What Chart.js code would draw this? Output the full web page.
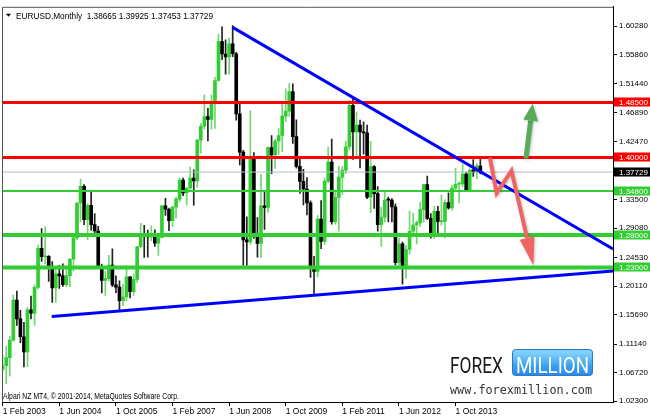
<!DOCTYPE html>
<html>
<head>
  <meta charset="UTF-8" />
  <title>EURUSD Monthly</title>
  <script src="https://cdn.jsdelivr.net/npm/chart.js"></script>
  <style>
    body {
      margin: 0;
      background: #fff;
    }

    #wrap {
      width: 650px;
      height: 420px;
    }
  </style>
</head>
<body>

  <div id="wrap"><canvas id="chart" width="650" height="420"></canvas></div>

  <script>
    // monthly candles, index 0 = Feb 2003, last = May 2014 (still open)
    const opens = [
      1.0728, 1.0780, 1.0906, 1.1175, 1.1794, 1.1503, 1.1228, 1.0995, 1.1642, 1.1593, 1.1990,
      1.2595, 1.2464, 1.2470, 1.2315, 1.1983, 1.2200, 1.2169, 1.2033, 1.2172, 1.2426, 1.2757, 1.3295,
      1.3554, 1.3037, 1.3259, 1.2960, 1.2862, 1.2303, 1.2099, 1.2127, 1.2337, 1.2030, 1.1995, 1.1787,
      1.1845, 1.2155, 1.1926, 1.2115, 1.2623, 1.2813, 1.2786, 1.2770, 1.2816, 1.2676, 1.2762, 1.3250,
      1.3199, 1.3021, 1.3232, 1.3355, 1.3651, 1.3452, 1.3527, 1.3679, 1.3638, 1.4266, 1.4481, 1.4631,
      1.4587, 1.4863, 1.5189, 1.5790, 1.5598, 1.5552, 1.5754, 1.5602, 1.4672, 1.4081, 1.2724, 1.2693,
      1.3972, 1.2802, 1.2669, 1.3251, 1.3226, 1.4151, 1.4040, 1.4254, 1.4339, 1.4637, 1.4716, 1.5016,
      1.4321, 1.3862, 1.3629, 1.3512, 1.3296, 1.2302, 1.2236, 1.3045, 1.2700, 1.3633, 1.3927, 1.3006,
      1.3381, 1.3696, 1.3803, 1.4165, 1.4805, 1.4393, 1.4500, 1.4395, 1.4378, 1.3385, 1.3857, 1.3440,
      1.2960, 1.3078, 1.3340, 1.3339, 1.3236, 1.2373, 1.2665, 1.2303, 1.2577, 1.2858, 1.2955, 1.2988,
      1.3193, 1.3578, 1.3057, 1.2822, 1.3168, 1.3006, 1.3010, 1.3301, 1.3220, 1.3526, 1.3585, 1.3591,
      1.3743, 1.3486, 1.3805, 1.3770, 1.38665
    ];
    const highs = [
      1.0935, 1.1082, 1.1236, 1.1870, 1.1933, 1.1635, 1.1449, 1.1682, 1.1855, 1.2029, 1.2645,
      1.2899, 1.2927, 1.2484, 1.2390, 1.2273, 1.2327, 1.2356, 1.2321, 1.2440, 1.2820, 1.3300, 1.3666,
      1.3580, 1.3285, 1.3486, 1.3133, 1.2935, 1.2350, 1.2234, 1.2488, 1.2587, 1.2168, 1.2093, 1.2040,
      1.2323, 1.2156, 1.2197, 1.2624, 1.2980, 1.2951, 1.2878, 1.2941, 1.2880, 1.2777, 1.3256, 1.3367,
      1.3218, 1.3242, 1.3387, 1.3683, 1.3681, 1.3534, 1.3852, 1.3807, 1.4281, 1.4527, 1.4967, 1.4760,
      1.4967, 1.5239, 1.5904, 1.6018, 1.5818, 1.5844, 1.6038, 1.5624, 1.4867, 1.4109, 1.3083, 1.4719,
      1.4074, 1.3068, 1.3738, 1.3461, 1.4162, 1.4338, 1.4278, 1.4447, 1.4844, 1.5061, 1.5144, 1.5136,
      1.4579, 1.3988, 1.3817, 1.3690, 1.3327, 1.2469, 1.3100, 1.3333, 1.3679, 1.4158, 1.4283, 1.3500,
      1.3861, 1.3860, 1.4250, 1.4881, 1.4939, 1.4699, 1.4578, 1.4549, 1.4499, 1.4248, 1.3873, 1.3549,
      1.3233, 1.3487, 1.3386, 1.3365, 1.3283, 1.2748, 1.2692, 1.2636, 1.3172, 1.3140, 1.3018, 1.3308,
      1.3588, 1.3711, 1.3132, 1.3243, 1.3243, 1.3416, 1.3346, 1.3451, 1.3567, 1.3832, 1.3621, 1.3893,
      1.3775, 1.3823, 1.3967, 1.3905, 1.39925
    ];
    const lows = [
      1.0690, 1.0504, 1.0620, 1.1160, 1.1402, 1.1137, 1.0762, 1.0764, 1.1503, 1.1403, 1.1962,
      1.2391, 1.2356, 1.2082, 1.1760, 1.1759, 1.1976, 1.2007, 1.2000, 1.2005, 1.2247, 1.2724, 1.3008,
      1.2961, 1.2727, 1.2875, 1.2795, 1.2290, 1.1906, 1.1867, 1.2089, 1.2003, 1.1910, 1.1638, 1.1708,
      1.1787, 1.1827, 1.1865, 1.2066, 1.2604, 1.2453, 1.2457, 1.2713, 1.2623, 1.2483, 1.2761, 1.3102,
      1.2866, 1.2933, 1.3064, 1.3316, 1.3408, 1.3266, 1.3482, 1.3260, 1.3541, 1.4065, 1.4435, 1.4253,
      1.4438, 1.4447, 1.5175, 1.5510, 1.5287, 1.5285, 1.5556, 1.4576, 1.3882, 1.2330, 1.2329, 1.2658,
      1.2746, 1.2457, 1.2454, 1.2887, 1.3148, 1.3749, 1.3829, 1.4047, 1.4088, 1.4551, 1.4633, 1.4218,
      1.3832, 1.3442, 1.3267, 1.3109, 1.2143, 1.1876, 1.2154, 1.2589, 1.2655, 1.3605, 1.2968, 1.2969,
      1.2860, 1.3428, 1.3749, 1.4111, 1.3968, 1.4000, 1.3837, 1.4051, 1.3361, 1.3145, 1.3210, 1.2858,
      1.2624, 1.3000, 1.3003, 1.3001, 1.2333, 1.2288, 1.2042, 1.2134, 1.2501, 1.2802, 1.2661, 1.2928,
      1.2998, 1.3036, 1.2750, 1.2746, 1.2796, 1.2951, 1.2755, 1.3200, 1.3185, 1.3481, 1.3295, 1.3543,
      1.3477, 1.3477, 1.3706, 1.3673, 1.37453
    ];
    const closes = [
      1.0780, 1.0906, 1.1175, 1.1794, 1.1503, 1.1228, 1.0995, 1.1642, 1.1593, 1.1990, 1.2595,
      1.2464, 1.2470, 1.2315, 1.1983, 1.2200, 1.2169, 1.2033, 1.2172, 1.2426, 1.2757, 1.3295, 1.3554,
      1.3037, 1.3259, 1.2960, 1.2862, 1.2303, 1.2099, 1.2127, 1.2337, 1.2030, 1.1995, 1.1787, 1.1845,
      1.2155, 1.1926, 1.2115, 1.2623, 1.2813, 1.2786, 1.2770, 1.2816, 1.2676, 1.2762, 1.3250, 1.3199,
      1.3021, 1.3232, 1.3355, 1.3651, 1.3452, 1.3527, 1.3679, 1.3638, 1.4266, 1.4481, 1.4631, 1.4587,
      1.4863, 1.5189, 1.5790, 1.5598, 1.5552, 1.5754, 1.5602, 1.4672, 1.4081, 1.2724, 1.2693, 1.3972,
      1.2802, 1.2669, 1.3251, 1.3226, 1.4151, 1.4040, 1.4254, 1.4339, 1.4637, 1.4716, 1.5016, 1.4321,
      1.3862, 1.3629, 1.3512, 1.3296, 1.2302, 1.2236, 1.3045, 1.2700, 1.3633, 1.3927, 1.3006, 1.3381,
      1.3696, 1.3803, 1.4165, 1.4805, 1.4393, 1.4500, 1.4395, 1.4378, 1.3385, 1.3857, 1.3440, 1.2960,
      1.3078, 1.3340, 1.3339, 1.3236, 1.2373, 1.2665, 1.2303, 1.2577, 1.2858, 1.2955, 1.2988, 1.3193,
      1.3578, 1.3057, 1.2822, 1.3168, 1.3006, 1.3010, 1.3301, 1.3220, 1.3526, 1.3585, 1.3591, 1.3743,
      1.3486, 1.3805, 1.3770, 1.3868, 1.37729
    ];

    // time axis labels (bar index -> label)
    const timeTickIndex = [0, 16, 32, 48, 64, 80, 96, 112, 128];
    const timeTickLabels = ['1 Feb 2003', '1 Jun 2004', '1 Oct 2005', '1 Feb 2007', '1 Jun 2008',
                            '1 Oct 2009', '1 Feb 2011', '1 Jun 2012', '1 Oct 2013'];
    const priceTicks = [1.6028, 1.5586, 1.5144, 1.4689, 1.4247, 1.3350, 1.2908,
                        1.2453, 1.2011, 1.1569, 1.1114, 1.0672, 1.0230];

    // horizontal levels
    const resistanceLevels = [1.485, 1.40];
    const supportLevels = [1.348, 1.28, 1.23];
    const lastPrice = 1.37729;

    // trend lines (bar index, price)
    const upperTrendX = [65, 172.5];
    const upperTrendY = [1.6010, 1.2585];
    const lowerTrendX = [13.85, 172.5];
    const lowerTrendY = [1.1540, 1.2245];

    // scenario arrows (bar index, price)
    const upArrowX = [147.9, 149.8];
    const upArrowY = [1.3982, 1.4831];
    const downArrowX = [137.7, 139.6, 143.8, 150.0];
    const downArrowY = [1.3995, 1.3449, 1.3795, 1.2332];

    const X_MIN = -0.2, X_MAX = 172.5;
    const Y_MIN = 1.0219, Y_MAX = 1.6328;

    const GREEN = '#32cd32';
    const UI_FONT = '"Liberation Sans", Arial, sans-serif';

    const idx = opens.map((_, i) => i);
    const isUp = idx.map(i => closes[i] >= opens[i]);

    function hLine(v) {
      return [{ x: X_MIN, y: v }, { x: X_MAX, y: v }];
    }
    function seg(xs, ys) {
      return xs.map((x, i) => ({ x: x, y: ys[i] }));
    }
    function lineSet(data, color, width, order) {
      return {
        type: 'line', data: data, borderColor: color, borderWidth: width,
        pointRadius: 0, fill: false, tension: 0, order: order
      };
    }

    const datasets = [
      {
        label: 'body',
        data: idx.map(i => ({ x: i, y: [Math.min(opens[i], closes[i]), Math.max(opens[i], closes[i])] })),
        backgroundColor: idx.map(i => isUp[i] ? GREEN : '#000'),
        barThickness: 3,
        minBarLength: 1,
        grouped: false,
        order: 5
      },
      {
        label: 'wick',
        data: idx.map(i => ({ x: i, y: [lows[i], highs[i]] })),
        backgroundColor: idx.map(i => isUp[i] ? '#6fd86f' : '#222'),
        barThickness: 1,
        grouped: false,
        order: 6
      },
      lineSet(hLine(lastPrice), '#b4bcc8', 1, 4)
    ];
    resistanceLevels.forEach(v => datasets.push(lineSet(hLine(v), '#ff0000', 3, 3)));
    supportLevels.forEach((v, i) => datasets.push(lineSet(hLine(v), GREEN, i === 0 ? 2 : 4, 3)));
    datasets.push(lineSet(seg(upperTrendX, upperTrendY), '#0000ff', 3, 1));
    datasets.push(lineSet(seg(lowerTrendX, lowerTrendY), '#0000ff', 3, 1));

    // draw text squeezed/stretched to a given width
    function fitText(ctx, text, x, y, w, font, color) {
      ctx.save();
      ctx.font = font;
      const m = ctx.measureText(text).width;
      ctx.translate(x, y);
      ctx.scale(w / m, 1);
      ctx.fillStyle = color;
      ctx.textBaseline = 'alphabetic';
      ctx.textAlign = 'left';
      ctx.fillText(text, 0, 0);
      ctx.restore();
    }

    function drawArrow(ctx, pts, color, shaft, headLen, headW) {
      const n = pts.length;
      const tip = pts[n - 1], prev = pts[n - 2];
      const ang = Math.atan2(tip.y - prev.y, tip.x - prev.x);
      const bx = tip.x - Math.cos(ang) * headLen;
      const by = tip.y - Math.sin(ang) * headLen;
      ctx.save();
      ctx.shadowColor = 'rgba(0,0,0,0.25)';
      ctx.shadowBlur = 3;
      ctx.shadowOffsetX = 1;
      ctx.shadowOffsetY = 1;
      ctx.strokeStyle = color;
      ctx.fillStyle = color;
      ctx.lineWidth = shaft;
      ctx.lineJoin = 'miter';
      ctx.beginPath();
      ctx.moveTo(pts[0].x, pts[0].y);
      for (let i = 1; i < n - 1; i++) ctx.lineTo(pts[i].x, pts[i].y);
      ctx.lineTo(bx, by);
      ctx.stroke();
      ctx.beginPath();
      ctx.moveTo(tip.x, tip.y);
      ctx.lineTo(bx + Math.sin(ang) * headW / 2, by - Math.cos(ang) * headW / 2);
      ctx.lineTo(bx - Math.sin(ang) * headW / 2, by + Math.cos(ang) * headW / 2);
      ctx.closePath();
      ctx.fill();
      ctx.restore();
    }

    const decorPlugin = {
      id: 'decor',
      beforeDatasetsDraw(chart) {
        const ctx = chart.ctx;
        const a = chart.chartArea;
        // watermark
        const wx = a.right - 163, wy = a.bottom - 49;
        fitText(ctx, 'FOREX', wx, wy + 20, 53, '22px Roboto, sans-serif', '#1a1a1a');
        const g = ctx.createLinearGradient(0, wy, 0, wy + 26);
        g.addColorStop(0, '#7fd0ff');
        g.addColorStop(0.5, '#3aa0ee');
        g.addColorStop(1, '#2a7fe0');
        ctx.save();
        ctx.fillStyle = g;
        ctx.strokeStyle = '#2a78c8';
        ctx.beginPath();
        ctx.roundRect(wx + 62.5, wy - 3.5, 80, 26, 3);
        ctx.fill();
        ctx.stroke();
        ctx.restore();
        fitText(ctx, 'MILLION', wx + 66, wy + 20, 73, '22px Roboto, sans-serif', '#ffffff');
        fitText(ctx, 'www.forexmillion.com', wx, wy + 41, 142, '12px "DejaVu Sans Mono", monospace', '#333');
      },
      afterDatasetsDraw(chart) {
        const ctx = chart.ctx;
        const xs = chart.scales.x, ys = chart.scales.y;
        const px = (xa, ya) => xa.map((v, i) => ({ x: xs.getPixelForValue(v), y: ys.getPixelForValue(ya[i]) }));
        ctx.save();
        const a = chart.chartArea;
        ctx.beginPath();
        ctx.rect(a.left, a.top, a.right - a.left, a.bottom - a.top);
        ctx.clip();
        drawArrow(ctx, px(upArrowX, upArrowY), '#58ab58', 5, 17, 15);
        drawArrow(ctx, px(downArrowX, downArrowY), '#f06464', 4, 28, 15);
        ctx.restore();
      },
      afterDraw(chart) {
        const ctx = chart.ctx;
        const a = chart.chartArea;
        const ys = chart.scales.y;
        // frame left/top
        ctx.save();
        ctx.strokeStyle = '#555';
        ctx.lineWidth = 1;
        ctx.beginPath();
        ctx.moveTo(a.left + 0.5, a.bottom);
        ctx.lineTo(a.left + 0.5, a.top + 0.5);
        ctx.lineTo(a.right, a.top + 0.5);
        ctx.stroke();

        // price labels on the right axis
        const tag = (v, bg) => {
          const y = Math.round(ys.getPixelForValue(v));
          ctx.fillStyle = bg;
          ctx.fillRect(a.right + 1, y - 4.5, 650 - a.right - 1, 9);
          ctx.fillStyle = '#fff';
          ctx.font = '8px ' + UI_FONT;
          ctx.textBaseline = 'middle';
          ctx.textAlign = 'left';
          ctx.fillText(v.toFixed(5), a.right + 6, y + 0.5);
        };
        resistanceLevels.forEach(v => tag(v, '#ff0000'));
        supportLevels.forEach(v => tag(v, GREEN));
        tag(lastPrice, '#000');

        // header
        ctx.fillStyle = '#000';
        ctx.beginPath();
        ctx.moveTo(a.left + 4, a.top + 7);
        ctx.lineTo(a.left + 9, a.top + 7);
        ctx.lineTo(a.left + 6.5, a.top + 10);
        ctx.closePath();
        ctx.fill();
        fitText(ctx, 'EURUSD,Monthly  1.38665 1.39925 1.37453 1.37729', a.left + 14, a.top + 12, 197,
                '9px ' + UI_FONT, '#000');
        fitText(ctx, 'Alpari NZ MT4, \u00a9 2001-2014, MetaQuotes Software Corp.', a.left + 1, a.bottom - 3, 176,
                '9px ' + UI_FONT, '#000');
        ctx.restore();
      }
    };

    Chart.defaults.color = '#000';

    new Chart(document.getElementById('chart').getContext('2d'), {
      type: 'bar',
      data: { datasets: datasets },
      options: {
        responsive: false,
        animation: false,
        layout: { padding: { left: 2, top: 1, right: 0, bottom: 0 } },
        plugins: {
          legend: { display: false },
          tooltip: { enabled: false }
        },
        scales: {
          x: {
            type: 'linear',
            min: X_MIN,
            max: X_MAX,
            offset: false,
            afterBuildTicks: s => { s.ticks = timeTickIndex.map(v => ({ value: v })); },
            afterFit: s => { s.height = 18; },
            ticks: {
              autoSkip: false,
              maxRotation: 0,
              align: 'start',
              padding: 1,
              font: { family: UI_FONT, size: 8.5 },
              callback: (v, i) => timeTickLabels[i]
            },
            grid: { drawOnChartArea: false, offset: false, tickLength: 4, color: '#000' },
            border: { display: true, color: '#000' }
          },
          y: {
            type: 'linear',
            position: 'right',
            min: Y_MIN,
            max: Y_MAX,
            afterBuildTicks: s => { s.ticks = priceTicks.map(v => ({ value: v })); },
            afterFit: s => { s.width = 37; },
            ticks: {
              padding: 2,
              font: { family: UI_FONT, size: 8 },
              callback: v => v.toFixed(5)
            },
            grid: { drawOnChartArea: false, tickLength: 4, color: '#000' },
            border: { display: true, color: '#000' }
          }
        }
      },
      plugins: [decorPlugin]
    });
  </script>
</body>
</html>
